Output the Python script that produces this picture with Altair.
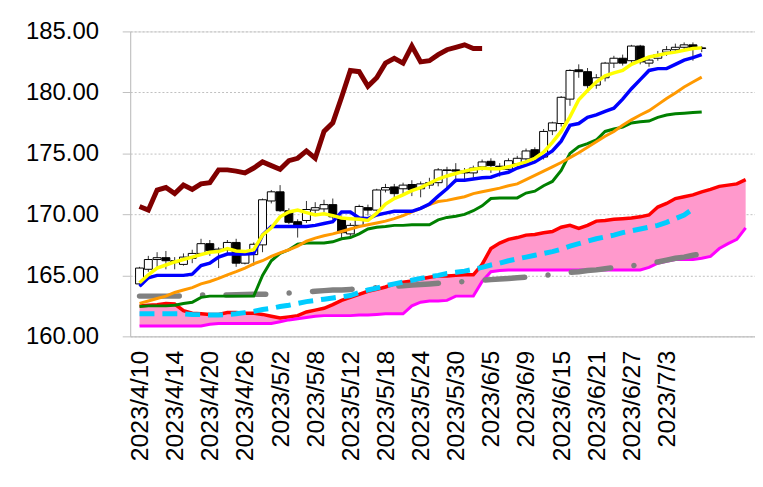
import json
import altair as alt
import pandas as pd

# ---------------- data ----------------
dates = ["2023/4/10", "2023/4/11", "2023/4/12", "2023/4/13", "2023/4/14",
         "2023/4/17", "2023/4/18", "2023/4/19", "2023/4/20", "2023/4/21",
         "2023/4/24", "2023/4/25", "2023/4/26", "2023/4/27", "2023/4/28",
         "2023/5/1", "2023/5/2", "2023/5/3", "2023/5/4", "2023/5/5",
         "2023/5/8", "2023/5/9", "2023/5/10", "2023/5/11", "2023/5/12",
         "2023/5/15", "2023/5/16", "2023/5/17", "2023/5/18", "2023/5/19",
         "2023/5/22", "2023/5/23", "2023/5/24", "2023/5/25", "2023/5/26",
         "2023/5/29", "2023/5/30", "2023/5/31", "2023/6/1", "2023/6/2",
         "2023/6/5", "2023/6/6", "2023/6/7", "2023/6/8", "2023/6/9",
         "2023/6/12", "2023/6/13", "2023/6/14", "2023/6/15", "2023/6/16",
         "2023/6/19", "2023/6/20", "2023/6/21", "2023/6/22", "2023/6/23",
         "2023/6/26", "2023/6/27", "2023/6/28", "2023/6/29", "2023/6/30",
         "2023/7/3", "2023/7/4", "2023/7/5", "2023/7/6", "2023/7/7"]

open_ = [164.3, 165.5, 166.3, 166.45, 166.2, 165.9, 166.4, 166.8, 167.6, 167.05,
         167.1, 167.7, 166.0, 166.7, 167.5, 171.1, 171.85, 170.3, 169.4, 169.5,
         170.35, 170.45, 170.8, 169.65, 168.4, 169.1, 170.55, 170.35, 172.0, 172.25,
         172.1, 172.45, 172.1, 172.4, 172.6, 173.6, 173.65, 173.55, 173.4, 173.9,
         174.35, 173.95, 173.7, 174.15, 174.55, 175.3, 174.7, 176.85, 177.45, 179.45,
         181.85, 181.7, 180.6, 181.2, 182.4, 182.8, 182.6, 183.8, 182.4, 182.8,
         183.3, 183.5, 183.7, 183.9, 183.65]
high = [165.7, 166.6, 166.9, 167.0, 166.5, 166.8, 167.1, 168.0, 167.9, 167.3,
        167.9, 168.0, 166.9, 167.7, 171.3, 172.0, 172.4, 170.5, 169.6, 171.1,
        171.0, 171.2, 171.3, 169.9, 169.3, 170.8, 170.8, 172.1, 172.5, 172.5,
        172.6, 172.8, 172.7, 173.0, 173.8, 173.9, 174.2, 173.8, 174.0, 174.5,
        174.6, 174.2, 174.6, 174.8, 175.4, 175.5, 177.0, 177.6, 179.7, 181.9,
        182.3, 182.0, 181.5, 182.5, 183.0, 183.1, 183.9, 183.9, 182.9, 183.4,
        183.8, 184.0, 184.1, 184.1, 183.8]
low = [164.1, 165.3, 165.6, 165.5, 165.5, 165.8, 166.0, 166.6, 166.6, 165.6,
       166.8, 165.7, 165.9, 165.8, 166.9, 170.9, 170.2, 169.2, 168.1, 169.3,
       170.1, 170.2, 169.6, 168.0, 168.2, 168.9, 169.9, 170.2, 171.8, 171.4,
       171.6, 171.5, 171.4, 172.1, 172.3, 172.1, 172.6, 172.8, 173.0, 173.6,
       173.4, 173.1, 173.6, 173.9, 174.3, 174.3, 174.5, 176.5, 177.2, 178.9,
       181.2, 180.0, 180.3, 180.9, 182.0, 182.2, 182.4, 182.3, 182.1, 182.6,
       183.0, 183.3, 183.5, 182.6, 183.3]
close = [165.6, 166.3, 166.45, 166.2, 166.05, 166.5, 166.8, 167.6, 167.05, 167.15,
         167.7, 166.0, 166.7, 167.55, 171.2, 171.85, 170.3, 169.35, 169.05, 170.4,
         170.55, 170.8, 169.8, 168.5, 169.1, 170.65, 170.35, 172.0, 172.2, 171.7,
         172.4, 172.05, 172.5, 172.6, 173.65, 173.65, 173.55, 173.4, 173.8, 174.3,
         174.0, 173.7, 174.4, 174.6, 175.2, 174.6, 176.8, 177.5, 179.6, 181.8,
         181.7, 180.55, 181.2, 182.4, 182.8, 182.4, 183.8, 182.5, 182.65, 183.1,
         183.5, 183.7, 183.9, 183.6, 183.6]

ma_yellow = [164.4, 165.05, 165.6, 165.85, 166.1, 166.3, 166.5, 166.7, 166.9, 166.95,
             167.2, 167.0, 166.95, 167.1, 168.3, 168.9, 169.8, 170.2, 170.35, 170.15,
             169.95, 170.05, 169.9, 169.7, 169.65, 169.6, 169.5, 170.1, 170.85, 171.3,
             171.6, 171.95, 172.2, 172.55, 172.9, 173.15, 173.35, 173.55, 173.7, 173.8,
             173.75, 173.75, 173.9, 174.1, 174.3, 174.6, 175.1, 175.9, 176.8, 178.0,
             179.4, 180.15, 180.85, 181.35, 181.6, 181.8, 182.3, 182.6, 182.9, 183.05,
             183.2, 183.3, 183.45, 183.6, 183.65]
tenkan = [164.1, 164.8, 165.0, 165.0, 165.0, 165.0, 165.1, 165.8, 166.0, 166.5,
          166.75, 166.75, 166.75, 166.8, 168.3, 169.0, 169.0, 169.0, 169.0, 169.0,
          169.1, 169.25, 169.4, 170.2, 170.2, 169.7, 169.65, 169.95, 170.1, 170.25,
          170.25, 170.25, 170.5, 170.85, 171.5, 172.1, 172.8, 172.8, 172.9, 173.0,
          173.05, 173.3, 173.45, 173.8, 174.05, 174.3, 174.75, 175.2, 176.0, 177.3,
          177.45, 177.95, 178.15, 178.45, 178.7, 179.45, 180.3, 181.05, 181.8, 181.95,
          181.95, 182.3, 182.65, 182.85, 183.1]
ma_orange = [162.7, 162.9, 163.1, 163.3, 163.6, 163.8, 164.0, 164.3, 164.5, 164.75,
             165.05, 165.3, 165.6, 165.95, 166.2, 166.55, 166.85, 167.1, 167.4, 167.8,
             168.05, 168.25, 168.4, 168.6, 168.8, 169.0, 169.15, 169.3, 169.45, 169.65,
             169.9, 170.2, 170.5, 170.8, 171.05, 171.15, 171.3, 171.45, 171.7, 171.85,
             172.0, 172.15, 172.35, 172.5, 172.85, 173.2, 173.55, 173.9, 174.25, 174.65,
             175.05, 175.5, 175.95, 176.4, 176.8, 177.3, 177.75, 178.15, 178.5, 179.0,
             179.5, 179.95, 180.45, 180.85, 181.25]
kijun = [162.45, 162.5, 162.5, 162.5, 162.55, 162.7, 162.8, 163.2, 163.3, 163.3,
         163.3, 163.3, 163.3, 163.3, 165.0, 166.2, 166.8, 167.1, 167.55, 167.65,
         167.65, 167.65, 167.75, 168.0, 168.1, 168.4, 168.8, 168.95, 169.0, 169.1,
         169.1, 169.15, 169.15, 169.15, 169.55, 169.75, 169.85, 170.0, 170.3, 170.7,
         171.3, 171.35, 171.35, 171.35, 171.75, 171.9, 172.35, 172.7, 173.6, 175.0,
         175.55, 175.8, 176.1, 176.8, 177.0, 177.15, 177.5, 177.6, 177.65, 177.95,
         178.15, 178.25, 178.3, 178.35, 178.4]
chikou = [170.65, 170.35, 172.0, 172.2, 171.7, 172.4, 172.05, 172.5, 172.6, 173.65,
          173.65, 173.55, 173.4, 173.8, 174.3, 174.0, 173.7, 174.4, 174.6, 175.2,
          174.6, 176.8, 177.5, 179.6, 181.8, 181.7, 180.5, 181.2, 182.4, 182.8,
          182.4, 183.8, 182.5, 182.6, 183.1, 183.5, 183.7, 183.9, 183.6, 183.6]
senkou_a = [162.5, 162.55, 162.6, 162.7, 162.65, 162.1, 161.9, 161.85, 161.8, 161.8,
            161.95, 161.95, 161.9, 161.9, 161.8, 161.65, 161.5, 161.6, 161.7, 162.0,
            162.15, 162.3, 162.6, 162.95, 163.2, 163.45, 163.7, 163.85, 164.05, 164.3,
            164.45, 164.55, 164.7, 164.85, 164.95, 164.95, 165.0, 165.05, 165.05, 165.9,
            167.2, 167.65, 167.95, 168.1, 168.3, 168.35, 168.5, 168.6, 168.95, 169.1,
            168.85, 169.1, 169.45, 169.5, 169.6, 169.65, 169.7, 169.8, 169.95, 170.6,
            170.9, 171.3, 171.45, 171.6, 171.85, 172.05, 172.3, 172.4, 172.5, 172.85]
senkou_b = [160.85, 160.85, 160.85, 160.85, 160.85, 160.85, 160.85, 160.85, 161.0, 161.05,
            161.05, 161.05, 161.05, 161.05, 161.05, 161.05, 161.2, 161.35, 161.45, 161.55,
            161.65, 161.7, 161.7, 161.7, 161.7, 161.75, 161.75, 161.8, 161.85, 161.85,
            161.85, 162.5, 162.8, 162.9, 162.9, 162.95, 163.3, 163.3, 163.3, 164.5,
            165.3, 165.4, 165.45, 165.45, 165.45, 165.45, 165.45, 165.45, 165.45, 165.45,
            165.45, 165.45, 165.45, 165.45, 165.45, 165.45, 165.45, 165.45, 165.65, 166.0,
            166.15, 166.3, 166.3, 166.3, 166.4, 166.55, 167.2, 167.6, 167.95, 168.9]
ma_cyan = [161.85, 161.85, 161.85, 161.85, 161.85, 161.85, 161.8, 161.78, 161.75, 161.75,
           161.8, 161.85, 161.95, 162.05, 162.2, 162.3, 162.45, 162.55, 162.7, 162.85,
           162.95, 163.05, 163.15, 163.25, 163.35, 163.6, 163.8, 163.95, 164.15, 164.3,
           164.45, 164.6, 164.75, 164.9, 165.0, 165.15, 165.25, 165.35, 165.5, 165.65,
           165.85, 166.0, 166.2, 166.35, 166.5, 166.65, 166.8, 166.95, 167.15, 167.4,
           167.6, 167.8, 168.0, 168.15, 168.3, 168.5, 168.65, 168.8, 168.95, 169.1,
           169.35, 169.65, 169.95, 170.45]
ma_gray = [163.3, 163.3, 163.3, 163.3, 163.3, 163.32, 163.35, 163.38, 163.4, 163.4,
           163.4, 163.42, 163.43, 163.45, 163.45, 163.48, 163.5, 163.55, 163.6, 163.65,
           163.7, 163.75, 163.8, 163.8, 163.85, 163.9, 163.95, 164.0, 164.05, 164.1,
           164.15, 164.2, 164.25, 164.3, 164.35, 164.4, 164.45, 164.5, 164.55, 164.6,
           164.65, 164.7, 164.75, 164.8, 164.85, 164.9, 165.0, 165.05, 165.15, 165.25,
           165.3, 165.4, 165.45, 165.55, 165.65, 165.7, 165.8, 165.85, 166.0, 166.1,
           166.25, 166.4, 166.5, 166.65, 166.75]

tick_idx = list(range(0, 61, 4))
y_ticks = [160, 165, 170, 175, 180, 185]

# ---------------- frames ----------------
candles = pd.DataFrame({"i": range(len(close)), "open": open_, "high": high,
                        "low": low, "close": close, "yel": ma_yellow, "ten": tenkan,
                        "ora": ma_orange, "kij": kijun, "gray": ma_gray})
cloud = pd.DataFrame({"i": range(len(senkou_a)), "a": senkou_a, "b": senkou_b})
chik = pd.DataFrame({"i": range(len(chikou)), "v": chikou})
cyan = pd.DataFrame({"i": range(len(ma_cyan)), "v": ma_cyan})

FONT = "Liberation Sans"
label_expr = json.dumps(dates) + "[datum.value]"

x_axis = alt.Axis(values=tick_idx, labelExpr=label_expr, labelAngle=-90,
                  labelFontSize=25, labelFont=FONT, labelColor="black",
                  labelPadding=14, ticks=False, grid=False, domainColor="#BFBFBF",
                  labelOverlap=False, labelFlush=False, labelBound=False, title=None)
y_axis = alt.Axis(values=y_ticks, format=".2f", labelFontSize=24, labelFont=FONT,
                  labelColor="black", labelPadding=24, tickSize=8, tickColor="#BFBFBF",
                  domainColor="#BFBFBF", grid=True, gridColor="#BFBFBF",
                  gridDash=[2, 2], gridWidth=1, title=None)

xs = alt.Scale(domain=[-0.5, 69.5], nice=False, zero=False)
ys = alt.Scale(domain=[160, 185], nice=False, zero=False)


def X():
    return alt.X("i:Q", scale=xs, axis=x_axis)


def Y(field):
    return alt.Y(field, type="quantitative", scale=ys, axis=y_axis)


area = alt.Chart(cloud).mark_area(color="#FF99CC", opacity=1).encode(
    x=X(), y=Y("a"), y2="b")
red = alt.Chart(cloud).mark_line(color="#FF0000", strokeWidth=3.5).encode(x=X(), y=Y("a"))
mag = alt.Chart(cloud).mark_line(color="#FF00FF", strokeWidth=3).encode(x=X(), y=Y("b"))

wick = alt.Chart(candles).mark_rule(color="#333333", strokeWidth=1).encode(
    x=X(), y=Y("low"), y2="high")
up = alt.Chart(candles).transform_filter("datum.close >= datum.open").mark_bar(
    size=8, fill="white", stroke="black", strokeWidth=1).encode(
    x=X(), y=Y("open"), y2="close")
down = alt.Chart(candles).transform_filter("datum.close < datum.open").mark_bar(
    size=8, fill="black", stroke="black", strokeWidth=1).encode(
    x=X(), y=Y("open"), y2="close")


def line(df, field, color, width, **kw):
    return alt.Chart(df).mark_line(color=color, strokeWidth=width, **kw).encode(
        x=X(), y=Y(field))


green = line(candles, "kij", "#008000", 3)
orange = line(candles, "ora", "#FF9900", 3)
blue = line(candles, "ten", "#0000FF", 3.5)
yellow = line(candles, "yel", "#FFFF00", 3.5)
cyan_l = line(cyan, "v", "#00CCFF", 5, strokeDash=[15, 8])
gray_l = line(candles, "gray", "#808080", 5.5, strokeDash=[40, 23.5, 0.1, 23.5],
              strokeCap="round")
chik_l = line(chik, "v", "#800000", 5)

chart = alt.layer(area, red, mag, gray_l, cyan_l, wick, up, down, green, orange,
                  blue, yellow, chik_l).properties(
    width=629, height=307,
    padding={"left": 123, "top": 22, "right": 0, "bottom": 140},
    autosize=alt.AutoSizeParams(type="none"),
).configure_view(stroke=None).configure(background="white")

chart.save("out.html", embed_options={"renderer": "svg", "actions": False})
